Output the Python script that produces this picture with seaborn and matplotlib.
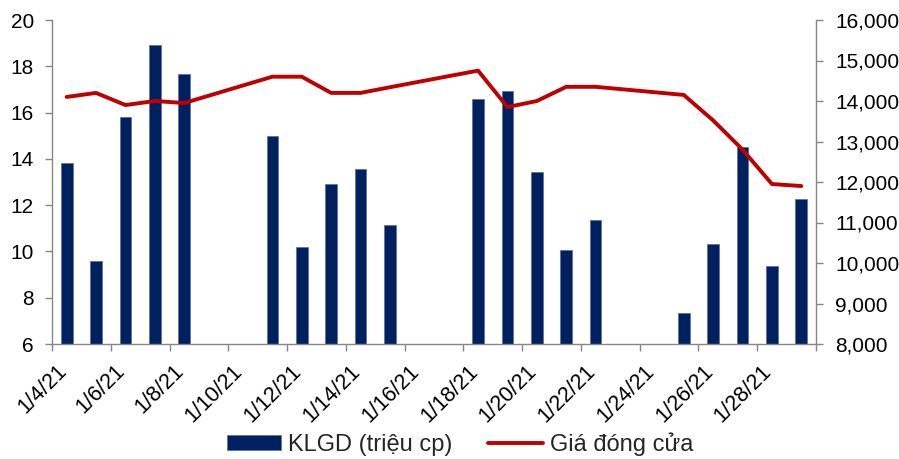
import matplotlib
matplotlib.use("Agg")
import matplotlib.pyplot as plt
import matplotlib.transforms as mtransforms
import matplotlib.ticker as mticker
import numpy as np
import pandas as pd
import seaborn as sns

# ── Data ─────────────────────────────────────────────────────────────
trade_dates = ["1/4/21", "1/5/21", "1/6/21", "1/7/21", "1/8/21",
               "1/11/21", "1/12/21", "1/13/21", "1/14/21", "1/15/21",
               "1/18/21", "1/19/21", "1/20/21", "1/21/21", "1/22/21",
               "1/25/21", "1/26/21", "1/27/21", "1/28/21", "1/29/21"]
volume = [13.8, 9.6, 15.8, 18.9, 17.65,
          15.0, 10.2, 12.93, 13.55, 11.13,
          16.6, 16.95, 13.42, 10.06, 11.36,
          7.32, 10.33, 14.53, 9.37, 12.25]
price = [14100, 14200, 13900, 14000, 13950,
         14600, 14600, 14200, 14200, 14340,
         14750, 13850, 14000, 14350, 14350,
         14150, 13520, 12800, 11950, 11900]
tick_labels = ["1/4/21", "1/6/21", "1/8/21", "1/10/21", "1/12/21", "1/14/21",
               "1/16/21", "1/18/21", "1/20/21", "1/22/21", "1/24/21",
               "1/26/21", "1/28/21"]

BAR_LABEL = "KLGD (triệu cp)"
LINE_LABEL = "Giá đóng cửa"

NAVY = "#002060"
RED = "#C00000"
GREY = "#868686"

# ── Frame ────────────────────────────────────────────────────────────
start = pd.to_datetime(trade_dates[0], format="%m/%d/%y")
df = pd.DataFrame({
    "date": pd.to_datetime(trade_dates, format="%m/%d/%y"),
    "volume": volume,
    "price": price,
})
df["day"] = (df["date"] - start).dt.days
tick_pos = [(pd.to_datetime(t, format="%m/%d/%y") - start).days for t in tick_labels]
last_day = int(df["day"].max())

sns.set_theme(style="white")
plt.rcParams["font.family"] = ["Liberation Sans", "DejaVu Sans"]

fig, ax = plt.subplots(figsize=(8.99, 4.59), dpi=100)
fig.subplots_adjust(left=52 / 899, right=816 / 899, top=1 - 20 / 459, bottom=1 - 344 / 459)

sns.barplot(data=df, x="day", y="volume", native_scale=True, width=0.4,
            color=NAVY, saturation=1, errorbar=None, ax=ax,
            edgecolor="#5a6d99", linewidth=0.5)

ax2 = ax.twinx()
sns.lineplot(data=df, x="day", y="price", color=RED, linewidth=2.8,
             ax=ax2, legend=False)

# ── Axes ─────────────────────────────────────────────────────────────
ax.set_xlim(-0.5, last_day + 0.5)
ax.set_ylim(6, 20)
ax.set_yticks(np.arange(6, 21, 2))
ax2.set_ylim(8000, 16000)
ax2.set_yticks(np.arange(8000, 16001, 1000))
ax2.yaxis.set_major_formatter(mticker.StrMethodFormatter("{x:,.0f}"))

for a in (ax, ax2):
    a.set_xlabel("")
    a.set_ylabel("")
    a.spines["top"].set_visible(False)
    a.grid(False)
ax.spines["right"].set_visible(False)
ax2.spines["left"].set_visible(False)
ax2.spines["bottom"].set_visible(False)
for s in (ax.spines["left"], ax.spines["bottom"], ax2.spines["right"]):
    s.set_color(GREY)
    s.set_linewidth(1.0)

ax.set_xticks(tick_pos)
ax.set_xticklabels(tick_labels, rotation=45, ha="right", va="top")
ax.set_xticks(np.arange(-0.5, last_day + 1, 2), minor=True)
ax.tick_params(axis="x", which="major", length=0, pad=12, labelsize=15.5,
               labelcolor="black")
ax.tick_params(axis="x", which="minor", bottom=True, length=5, width=1,
               color=GREY, direction="out")
ax.tick_params(axis="y", left=True, length=5, width=1, color=GREY,
               direction="out", pad=8, labelsize=15, labelcolor="black")
ax2.tick_params(axis="y", right=True, length=5, width=1, color=GREY,
                direction="out", pad=9, labelsize=15, labelcolor="black")

shift = mtransforms.ScaledTranslation(4 / 100, 0, fig.dpi_scale_trans)
for lbl in ax.get_xticklabels():
    lbl.set_transform(lbl.get_transform() + shift)

# ── Legend ───────────────────────────────────────────────────────────
bar_handle = ax.containers[0].patches[0]
line_handle = ax2.lines[0]
fig.legend([bar_handle, line_handle], [BAR_LABEL, LINE_LABEL],
           loc="center", bbox_to_anchor=(460 / 899, 1 - 444 / 459),
           ncol=2, frameon=False, fontsize=17, handlelength=2.3,
           handleheight=0.55, handletextpad=0.3, columnspacing=1.5)

fig.savefig("out.png", dpi=100)
plt.close(fig)
